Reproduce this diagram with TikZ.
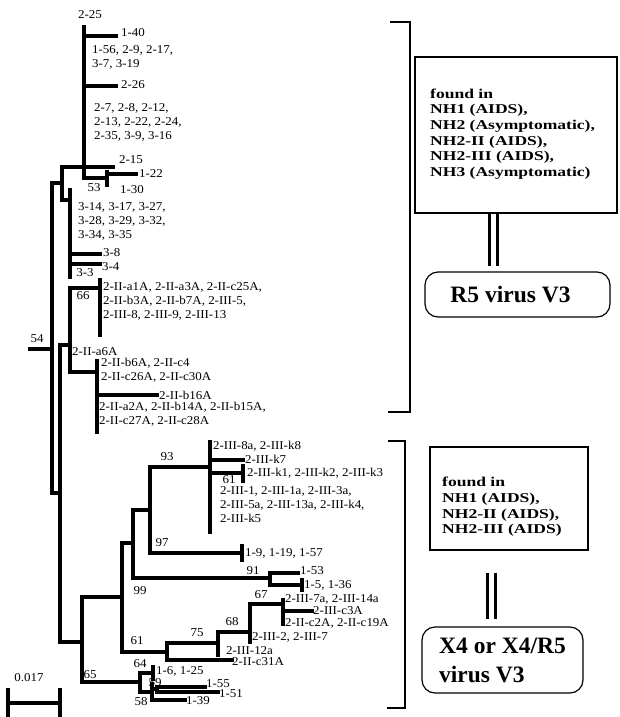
\documentclass[tikz,border=0pt]{standalone}
\usepackage{fontspec}
\setmainfont{Liberation Serif}
\newfontfamily\tipfont[FakeStretch=1.08]{Liberation Serif}
\newfontfamily\boxfont[FakeStretch=1.3]{Liberation Serif}
\usetikzlibrary{positioning,calc}

\begin{document}
\begin{tikzpicture}[x=1pt,y=-1pt,
        br/.style={line width=3.5pt,line cap=rect},
        tip/.style={anchor=west,inner sep=1pt,align=left,font=\tipfont\fontsize{12}{14}\selectfont},
        boot/.style={inner sep=0pt,font=\tipfont\fontsize{12}{14}\selectfont},
        clade/.style={line width=1.5pt},
        infobox/.style={draw,line width=1.2pt},
        infotxt/.style={anchor=west,align=left,inner sep=0pt,font=\boxfont\bfseries\fontsize{13.5}{15.6}\selectfont},
        virusbox/.style={draw,line width=1.2pt,rounded corners=13pt,align=left,font=\bfseries\fontsize{23.5}{29}\selectfont},
        link/.style={double,double distance=5pt,line width=3pt}]
        \useasboundingbox (0,0) rectangle (620,717);

        % R5 part of the tree
        \coordinate (q-t) at (84,27);   \coordinate (q-b) at (84,178);
        \coordinate (p-t) at (62,167);  \coordinate (p-b) at (62,200);
        \coordinate (s-t) at (70,190);  \coordinate (s-b) at (70,277);
        \coordinate (n53-t) at (107,172); \coordinate (n53-b) at (107,185);
        \coordinate (r-t) at (52,183);  \coordinate (r-b) at (52,493);
        \coordinate (root) at (30,349);
        \coordinate (t-t) at (60,345);  \coordinate (t-b) at (60,642);
        \coordinate (u-t) at (70,288);  \coordinate (u-b) at (70,372);
        \coordinate (c66-t) at (100,280); \coordinate (c66-b) at (100,335);
        \coordinate (c-t) at (97,361);  \coordinate (c-b) at (97,432);
        \coordinate (l140) at (116,36); \coordinate (l226) at (116,86);
        \coordinate (l215) at (113,167); \coordinate (l122) at (136,174);
        \coordinate (l38) at (100,254); \coordinate (l34) at (100,264);
        \coordinate (lb16) at (157,395);

        \draw[br] (q-t) -- (q-b) (p-t) -- (p-b) (s-t) -- (s-b) (n53-t) -- (n53-b)
                  (r-t) -- (r-b) (t-t) -- (t-b) (u-t) -- (u-b) (c66-t) -- (c66-b) (c-t) -- (c-b);
        \draw[br] (q-t |- l140) -- (l140);
        \draw[br] (q-t |- l226) -- (l226);
        \draw[br] (p-t) -- (p-t -| q-t);
        \draw[br] (q-t |- l215) -- (l215);
        \draw[br] (q-b) -- (q-b -| n53-t);
        \draw[br] (n53-t |- l122) -- (l122);
        \draw[br] (r-t) -- (r-t -| p-t);
        \draw[br] (p-b) -- (p-b -| s-t);
        \draw[br] (s-t |- l38) -- (l38);
        \draw[br] (s-t |- l34) -- (l34);
        \draw[br] (root) -- (root -| r-t);
        \draw[br] (r-b) -- (r-b -| t-t);
        \draw[br] (t-t) -- (t-t -| u-t);
        \draw[br] (u-t) -- (u-t -| c66-t);
        \draw[br] (u-b) -- (u-b -| c-t);
        \draw[br] (c-t |- lb16) -- (lb16);

        \node[boot] (lab-225) at (90,15) {2-25};
        \node[tip] (lab-140) at (120,33) {1-40};
        \node[tip] (lab-156) at (91,57) {1-56, 2-9, 2-17,\\3-7, 3-19};
        \node[tip] (lab-226) at (120,85) {2-26};
        \node[tip] (lab-27) at (93,122) {2-7, 2-8, 2-12,\\2-13, 2-22, 2-24,\\2-35, 3-9, 3-16};
        \node[tip] (lab-215) at (118,160) {2-15};
        \node[tip] (lab-122) at (138,174) {1-22};
        \node[tip] (lab-130) at (119,190) {1-30};
        \node[boot] (bs-53) at (94,188) {53};
        \node[tip] (lab-314) at (77,221) {3-14, 3-17, 3-27,\\3-28, 3-29, 3-32,\\3-34, 3-35};
        \node[tip] (lab-38) at (102,253) {3-8};
        \node[tip] (lab-34) at (101,267) {3-4};
        \node[boot] (lab-33) at (85,273) {3-3};
        \node[boot] (bs-54) at (37,339) {54};
        \node[boot] (bs-66) at (83,296) {66};
        \node[tip] (lab-a1a) at (102,301) {2-II-a1A, 2-II-a3A, 2-II-c25A,\\2-II-b3A, 2-II-b7A, 2-III-5,\\2-III-8, 2-III-9, 2-III-13};
        \node[tip] (lab-a6a) at (71,352) {2-II-a6A};
        \node[tip] (lab-b6a) at (100,370) {2-II-b6A, 2-II-c4\\2-II-c26A, 2-II-c30A};
        \node[tip] (lab-b16a) at (158,395) {2-II-b16A};
        \node[tip] (lab-a2a) at (98,414) {2-II-a2A, 2-II-b14A, 2-II-b15A,\\2-II-c27A, 2-II-c28A};

        % X4 part of the tree
        \coordinate (x-t) at (82,597);   \coordinate (x-b) at (82,682);
        \coordinate (n61-t) at (122,543); \coordinate (n61-b) at (122,652);
        \coordinate (n99-t) at (133,510); \coordinate (n99-b) at (133,578);
        \coordinate (n93-t) at (150,467); \coordinate (n93-b) at (150,553);
        \coordinate (k-t) at (210,442);  \coordinate (k-b) at (210,532);
        \coordinate (n91-t) at (270,573); \coordinate (n91-b) at (270,585);
        \coordinate (m-t) at (167,643);  \coordinate (m-b) at (167,660);
        \coordinate (n75-t) at (218,632); \coordinate (n75-b) at (218,655);
        \coordinate (n68-t) at (250,604); \coordinate (n68-b) at (250,642);
        \coordinate (n67-t) at (283,600); \coordinate (n67-b) at (283,624);
        \coordinate (n64-t) at (140,673); \coordinate (n64-b) at (140,692);
        \coordinate (n58-t) at (152,684); \coordinate (n58-b) at (152,700);
        \coordinate (n59-t) at (157,687); \coordinate (n59-b) at (157,692);
        \coordinate (k1) at (243,473);   \coordinate (c19) at (242,553);
        \coordinate (c15) at (302,585);  \coordinate (c16) at (153,673);
        \coordinate (lk7) at (243,460);  \coordinate (l153) at (298,573);
        \coordinate (lc3) at (312,611);  \coordinate (lc31) at (232,660);
        \coordinate (l155) at (205,687); \coordinate (l151) at (218,692);
        \coordinate (l139) at (185,700);

        \draw[br] (x-t) -- (x-b) (n61-t) -- (n61-b) (n99-t) -- (n99-b) (n93-t) -- (n93-b)
                  (k-t) -- (k-b) (n91-t) -- (n91-b) (m-t) -- (m-b) (n75-t) -- (n75-b)
                  (n68-t) -- (n68-b) (n67-t) -- (n67-b) (n64-t) -- (n64-b)
                  (n58-t) -- (n58-b) (n59-t) -- (n59-b);
        \draw[br] ($(k1)+(0,-7)$) -- ($(k1)+(0,8)$);
        \draw[br] ($(c19)+(0,-7)$) -- ($(c19)+(0,7)$);
        \draw[br] ($(c15)+(0,-5)$) -- ($(c15)+(0,5)$);
        \draw[br] ($(c16)+(0,-6)$) -- ($(c16)+(0,6)$);
        \draw[br] (t-b) -- (t-b -| x-t);
        \draw[br] (x-t) -- (x-t -| n61-t);
        \draw[br] (n61-t) -- (n61-t -| n99-t);
        \draw[br] (n99-t) -- (n99-t -| n93-t);
        \draw[br] (n93-t) -- (n93-t -| k-t);
        \draw[br] (k-t |- lk7) -- (lk7);
        \draw[br] (k-t |- k1) -- (k1);
        \draw[br] (n93-b) -- (c19);
        \draw[br] (n99-b) -- (n99-b -| n91-t);
        \draw[br] (n91-t) -- (l153);
        \draw[br] (n91-b) -- (c15);
        \draw[br] (n61-b) -- (n61-b -| m-t);
        \draw[br] (m-t) -- (m-t -| n75-t);
        \draw[br] (n75-t) -- (n75-t -| n68-t);
        \draw[br] (n68-t) -- (n68-t -| n67-t);
        \draw[br] (n67-t |- lc3) -- (lc3);
        \draw[br] (m-b) -- (lc31);
        \draw[br] (x-b) -- (x-b -| n64-t);
        \draw[br] (n64-t) -- (c16);
        \draw[br] (n64-b) -- (n64-b -| n58-t);
        \draw[br] (n58-t |- 0,689) -- (n59-t |- 0,689);
        \draw[br] (n59-t) -- (l155);
        \draw[br] (n59-b) -- (l151);
        \draw[br] (n58-b) -- (l139);

        \node[boot] (bs-93) at (167,457) {93};
        \node[tip] (lab-8a) at (212,446) {2-III-8a, 2-III-k8};
        \node[tip] (lab-k7) at (244,459) {2-III-k7};
        \node[tip] (lab-k1) at (246,473) {2-III-k1, 2-III-k2, 2-III-k3};
        \node[boot] (bs-61a) at (229,479.5) {61};
        \node[tip] (lab-1) at (219,504.5) {2-III-1, 2-III-1a, 2-III-3a,\\2-III-5a, 2-III-13a, 2-III-k4,\\2-III-k5};
        \node[boot] (bs-97) at (162,543) {97};
        \node[tip] (lab-19) at (244,553) {1-9, 1-19, 1-57};
        \node[boot] (bs-91) at (253,571) {91};
        \node[tip] (lab-153) at (299,571) {1-53};
        \node[tip] (lab-15) at (303,585) {1-5, 1-36};
        \node[boot] (bs-99) at (140,591) {99};
        \node[boot] (bs-67) at (261,595) {67};
        \node[tip] (lab-7a) at (284,599) {2-III-7a, 2-III-14a};
        \node[tip] (lab-c3a) at (312,611) {2-III-c3A};
        \node[tip] (lab-c2a) at (284,623) {2-II-c2A, 2-II-c19A};
        \node[boot] (bs-68) at (232,622) {68};
        \node[boot] (bs-75) at (197,633) {75};
        \node[tip] (lab-2) at (251,637) {2-III-2, 2-III-7};
        \node[boot] (bs-61b) at (137,641) {61};
        \node[tip] (lab-12a) at (225,651) {2-III-12a};
        \node[tip] (lab-c31a) at (231,662) {2-II-c31A};
        \node[boot] (bs-64) at (140,664) {64};
        \node[boot] (bs-65) at (90,675) {65};
        \node[tip] (lab-16) at (155,671) {1-6, 1-25};
        \node[boot] (bs-59) at (155,683) {59};
        \node[tip] (lab-155) at (205,684) {1-55};
        \node[tip] (lab-151) at (218,694) {1-51};
        \node[boot] (bs-58) at (141,702) {58};
        \node[tip] (lab-139) at (185,701) {1-39};

        % scale bar
        \coordinate (sb-l) at (8,703); \coordinate (sb-r) at (60,703);
        \draw[br] (sb-l) -- (sb-r);
        \draw[br] ($(sb-l)+(0,-13)$) -- ($(sb-l)+(0,16)$);
        \draw[br] ($(sb-r)+(0,-13)$) -- ($(sb-r)+(0,16)$);
        \node[boot] (sb-lab) at (29,678) {0.017};

        % clade brackets
        \draw[clade] (390,22) -| (410,412) -- (388,412);
        \draw[clade] (388,441) -| (405,708) -- (387,708);

        % boxes
        \node[infobox,minimum width=202pt,minimum height=156pt] (r5info) at (516,135) {};
        \node[infotxt] (r5txt) at (430,134) {found in\\NH1 (AIDS),\\NH2 (Asymptomatic),\\NH2-II (AIDS),\\NH2-III (AIDS),\\NH3 (Asymptomatic)};
        \node[virusbox,minimum width=185pt,minimum height=45pt] (r5virus) at (517.5,294.5) {R5 virus V3\hspace*{14pt}};
        \draw[link] ([xshift=-23pt]r5info.south) -- ([xshift=-23pt]r5info.south |- r5virus.north) [shorten >=5pt];

        \node[infobox,minimum width=158pt,minimum height=103pt] (x4info) at (509,498.5) {};
        \node[infotxt] (x4txt) at (442,507) {found in\\NH1 (AIDS),\\NH2-II (AIDS),\\NH2-III (AIDS)};
        \node[virusbox,minimum width=161pt,minimum height=66pt] (x4virus) at (502.5,660) {X4 or X4/R5\\virus V3};
        \draw[link,shorten <=22pt,shorten >=7pt] ([xshift=-18pt]x4info.south) -- ([xshift=-18pt]x4info.south |- x4virus.north);
\end{tikzpicture}
\end{document}
